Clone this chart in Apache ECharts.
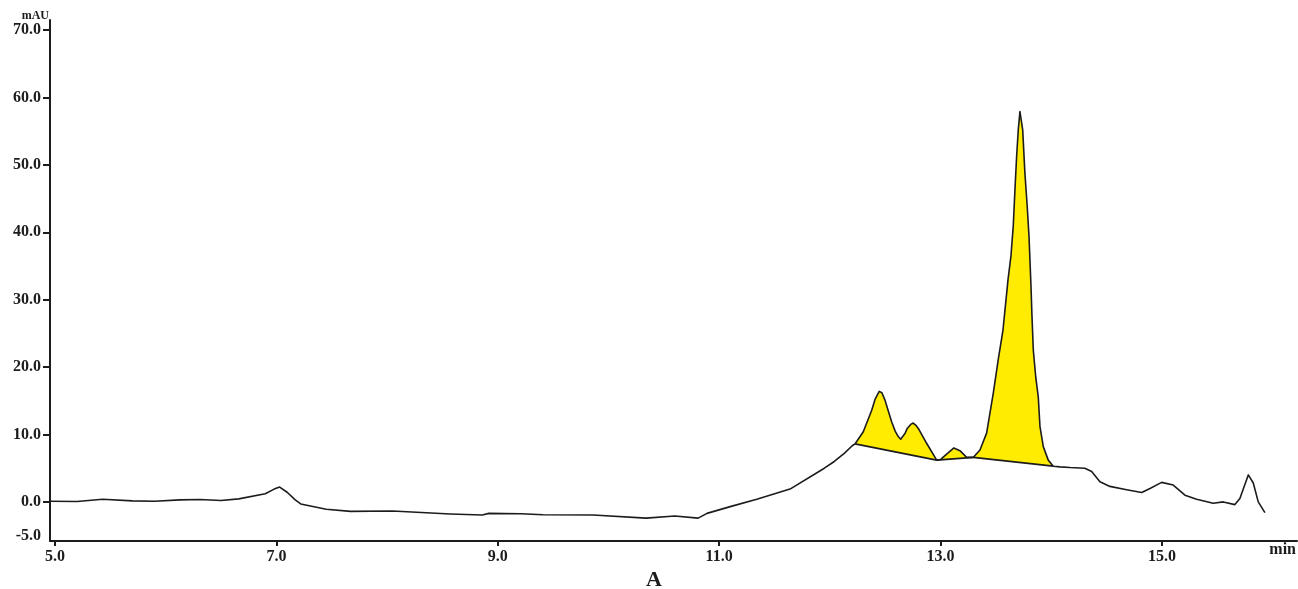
<!DOCTYPE html>
<html>
<head>
<meta charset="utf-8">
<script src="https://cdn.jsdelivr.net/npm/echarts@6/dist/echarts.min.js"></script>
<style>
html,body{margin:0;padding:0;background:#fff;}
#chart{width:1298px;height:589px;}
</style>
</head>
<body>
<div id="chart"></div>
<script>
// Retention time (min)
var time = [4.955, 5.2, 5.43, 5.7, 5.9, 6.13, 6.31, 6.5, 6.66, 6.9, 6.98, 7.03, 7.1, 7.17, 7.22, 7.45, 7.67, 8.05, 8.57, 8.86, 8.92, 9.21, 9.41, 9.86, 10.34, 10.6, 10.81, 10.89, 11.1, 11.34, 11.64, 11.95, 12.04, 12.13, 12.2, 12.227, 12.302, 12.378, 12.41, 12.446, 12.47, 12.498, 12.528, 12.558, 12.59, 12.618, 12.64, 12.658, 12.68, 12.699, 12.73, 12.753, 12.775, 12.799, 12.874, 12.965, 13.001, 13.055, 13.121, 13.175, 13.236, 13.295, 13.356, 13.416, 13.476, 13.521, 13.564, 13.609, 13.636, 13.657, 13.672, 13.687, 13.702, 13.717, 13.742, 13.762, 13.783, 13.799, 13.817, 13.826, 13.838, 13.86, 13.883, 13.898, 13.928, 13.973, 14.018, 14.079, 14.169, 14.304, 14.365, 14.44, 14.53, 14.681, 14.817, 14.892, 14.997, 15.102, 15.208, 15.313, 15.463, 15.554, 15.659, 15.704, 15.78, 15.825, 15.87, 15.93];
// Absorbance (mAU)
var mAU = [0.1, 0.05, 0.4, 0.15, 0.1, 0.3, 0.35, 0.2, 0.45, 1.2, 1.9, 2.2, 1.4, 0.3, -0.3, -1.1, -1.4, -1.35, -1.8, -1.95, -1.7, -1.75, -1.9, -1.95, -2.4, -2.1, -2.4, -1.7, -0.7, 0.4, 1.9, 5.0, 6.0, 7.2, 8.3, 8.6, 10.4, 13.6, 15.3, 16.4, 16.2, 15.1, 13.5, 11.9, 10.5, 9.7, 9.3, 9.4, 10.2, 10.9, 11.5, 11.7, 11.4, 10.9, 8.7, 6.2, 6.3, 7.1, 8.0, 7.6, 6.6, 6.6, 7.7, 10.2, 16.1, 21.1, 25.5, 32.9, 36.5, 41.0, 46.3, 51.2, 55.2, 57.9, 55.2, 48.8, 43.8, 39.4, 32.0, 27.5, 22.5, 18.5, 15.5, 11.2, 8.2, 6.2, 5.3, 5.2, 5.1, 5.0, 4.5, 3.0, 2.3, 1.8, 1.4, 2.0, 2.9, 2.5, 1.0, 0.4, -0.2, 0.0, -0.4, 0.5, 4.0, 2.8, 0.0, -1.6];
// Integrated peak windows (start / end times, baseline drawn between them)
var peakStart = [12.227, 12.965, 13.295];
var peakEnd = [12.965, 13.295, 14.018];
// Tick labels
var xTicks = [5, 7, 9, 11, 13, 15];
var yLabels = [-5, 0, 10, 20, 30, 40, 50, 60, 70];
var yTicks = [0, 10, 20, 30, 40, 50, 60, 70];

var curve = time.map(function (t, i) { return [t, mAU[i]]; });
function idxOf(t) { return time.indexOf(t); }
var windows = peakStart.map(function (s, k) { return [idxOf(s), idxOf(peakEnd[k])]; });

var FONT = '"Liberation Serif", "DejaVu Serif", serif';
var INK = '#1c1c1c';

var series = [];
series.push({
  type: 'custom',
  z: 1,
  silent: true,
  data: windows.map(function (w) { return [time[w[0]], time[w[1]]]; }),
  renderItem: function (params, api) {
    var w = windows[params.dataIndex];
    var pts = [];
    for (var i = w[0]; i <= w[1]; i++) pts.push(api.coord([time[i], mAU[i]]));
    return { type: 'polygon', shape: { points: pts }, style: { fill: '#FFEC00', stroke: null } };
  }
});
windows.forEach(function (w) {
  series.push({
    type: 'line', z: 3, silent: true, symbol: 'none',
    lineStyle: { color: INK, width: 1.7 },
    data: [[time[w[0]], mAU[w[0]]], [time[w[1]], mAU[w[1]]]]
  });
});
series.push({
  type: 'line', z: 4, silent: true, symbol: 'none', showSymbol: false,
  lineStyle: { color: INK, width: 1.6, join: 'round' },
  data: curve
});

var chart = echarts.init(document.getElementById('chart'), null, { renderer: 'canvas' });
chart.setOption({
  animation: false,
  backgroundColor: '#ffffff',
  grid: { left: 50, right: 1, top: 20, bottom: 48, containLabel: false },
  xAxis: {
    type: 'value', min: 4.955, max: 16.22,
    axisLine: { onZero: false, lineStyle: { color: INK, width: 2 } },
    axisTick: { show: true, length: 5, lineStyle: { color: INK, width: 2 }, customValues: xTicks },
    axisLabel: { customValues: xTicks, margin: 8, color: INK, fontFamily: FONT, fontWeight: 'bold', fontSize: 16,
      formatter: function (v) { return v.toFixed(1); } },
    splitLine: { show: false }
  },
  yAxis: {
    type: 'value', min: -5.8, max: 71.5,
    axisLine: { show: true, lineStyle: { color: INK, width: 2 } },
    axisTick: { show: true, length: 7, lineStyle: { color: INK, width: 2 }, customValues: yTicks },
    axisLabel: { customValues: yLabels, margin: 9, color: INK, fontFamily: FONT, fontWeight: 'bold', fontSize: 16,
      formatter: function (v) { return v.toFixed(1); } },
    splitLine: { show: false }
  },
  graphic: [
    { type: 'text', right: 1249, top: 10, style: { text: 'mAU', fill: INK, font: 'bold 12px ' + FONT } },
    { type: 'text', right: 2, top: 542, style: { text: 'min', fill: INK, font: 'bold 16px ' + FONT } },
    { type: 'text', left: 646, top: 569, style: { text: 'A', fill: INK, font: 'bold 22px ' + FONT } }
  ],
  series: series
});
</script>
</body>
</html>
